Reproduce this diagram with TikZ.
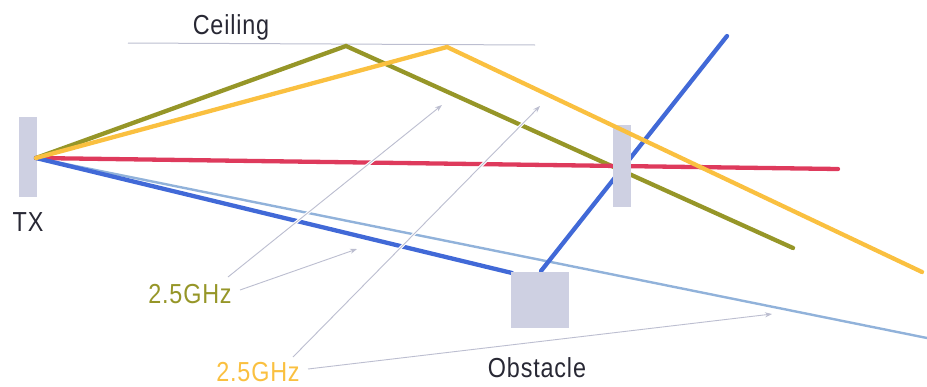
\documentclass[tikz,border=0pt]{standalone}
\usepackage{fontspec}
\setmainfont{Liberation Sans}[FakeStretch=0.85, LetterSpace=3]
\usetikzlibrary{arrows.meta}
\definecolor{olivebeam}{RGB}{150,150,40}
\definecolor{yellowbeam}{RGB}{250,192,64}
\definecolor{redbeam}{RGB}{222,58,92}
\definecolor{bluebeam}{RGB}{65,105,215}
\definecolor{lightbeam}{RGB}{145,178,218}
\definecolor{panel}{RGB}{206,208,226}
\definecolor{ink}{RGB}{40,40,52}
\definecolor{pointer}{RGB}{188,190,208}
\tikzset{
  beam/.style={line width=4.3pt, line cap=round},
  panelbox/.style={fill=panel, draw=none, inner sep=0pt},
  caption/.style={font=\fontsize{27.5}{30}\selectfont, text=ink, inner sep=0pt},
  freq/.style={font=\fontsize{27.5}{30}\selectfont, inner sep=0pt},
  pointerline/.style={draw=pointer, line width=0.9pt,
    -{Stealth[length=7pt,width=5pt]},
    preaction={draw=white, line width=3pt, -}},
}
\begin{document}
\begin{tikzpicture}[x=1pt,y=-1pt]
\useasboundingbox (0,0) rectangle (927,386);

% transmitter, receiver panel and obstacle
\node[panelbox, minimum width=18pt, minimum height=80pt] (tx) at (27.5,157) {};
\node[panelbox, minimum width=18pt, minimum height=82pt] (rx) at (622,166) {};
\node[panelbox, minimum width=58pt, minimum height=56pt] (obs) at (540,300) {};

% labels
\node[caption] (ceil) at (231,27) {Ceiling};
\node[caption] (txl) at (28,222) {TX};
\node[caption] (obsl) at (537,368) {Obstacle};
\node[freq, text=olivebeam] (f1) at (190,294) {2.5GHz};
\node[freq, text=yellowbeam] (f2) at (258,372) {2.5GHz};

% ceiling line
\coordinate (c0) at (128,43);
\coordinate (c1) at (535,45);
\draw[pointer, line width=1pt] (c0) -- (c1);

% beam geometry
\coordinate (src) at (36,158);
\coordinate (oa) at (346,46);
\coordinate (oe) at (793,248);
\coordinate (ya) at (447,47);
\coordinate (ye) at (922,272);
\coordinate (re) at (838,169);
\coordinate (bh) at (512,273);
\coordinate (bs) at (541,271);
\coordinate (be) at (727,36);
\coordinate (le) at (927,338);

% beams passing behind the receiver panel
\draw[beam, lightbeam, line width=2.4pt, line cap=butt] (src) -- (le);
\draw[beam, olivebeam] (src) -- (oa) -- (oe);
\draw[beam, redbeam] (src) -- (re);
\draw[beam, bluebeam] (src) -- (bh);
\draw[beam, bluebeam] (bs) -- (be);
\node[panelbox, minimum width=18pt, minimum height=82pt] at (rx) {};
\node[panelbox, minimum width=58pt, minimum height=56pt] at (obs) {};
\draw[beam, yellowbeam] (src) -- (ya) -- (ye);

% pointers from the frequency labels
\coordinate (p1a) at (228,277);
\coordinate (p1b) at (442,105);
\coordinate (p2a) at (240,290);
\coordinate (p2b) at (357,249);
\coordinate (p3a) at (293,357);
\coordinate (p3b) at (540,106);
\coordinate (p4a) at (308,369);
\coordinate (p4b) at (772,314);
\draw[pointerline] (p1a) -- (p1b);
\draw[pointerline] (p2a) -- (p2b);
\draw[pointerline] (p3a) -- (p3b);
\draw[pointerline] (p4a) -- (p4b);
\end{tikzpicture}
\end{document}
